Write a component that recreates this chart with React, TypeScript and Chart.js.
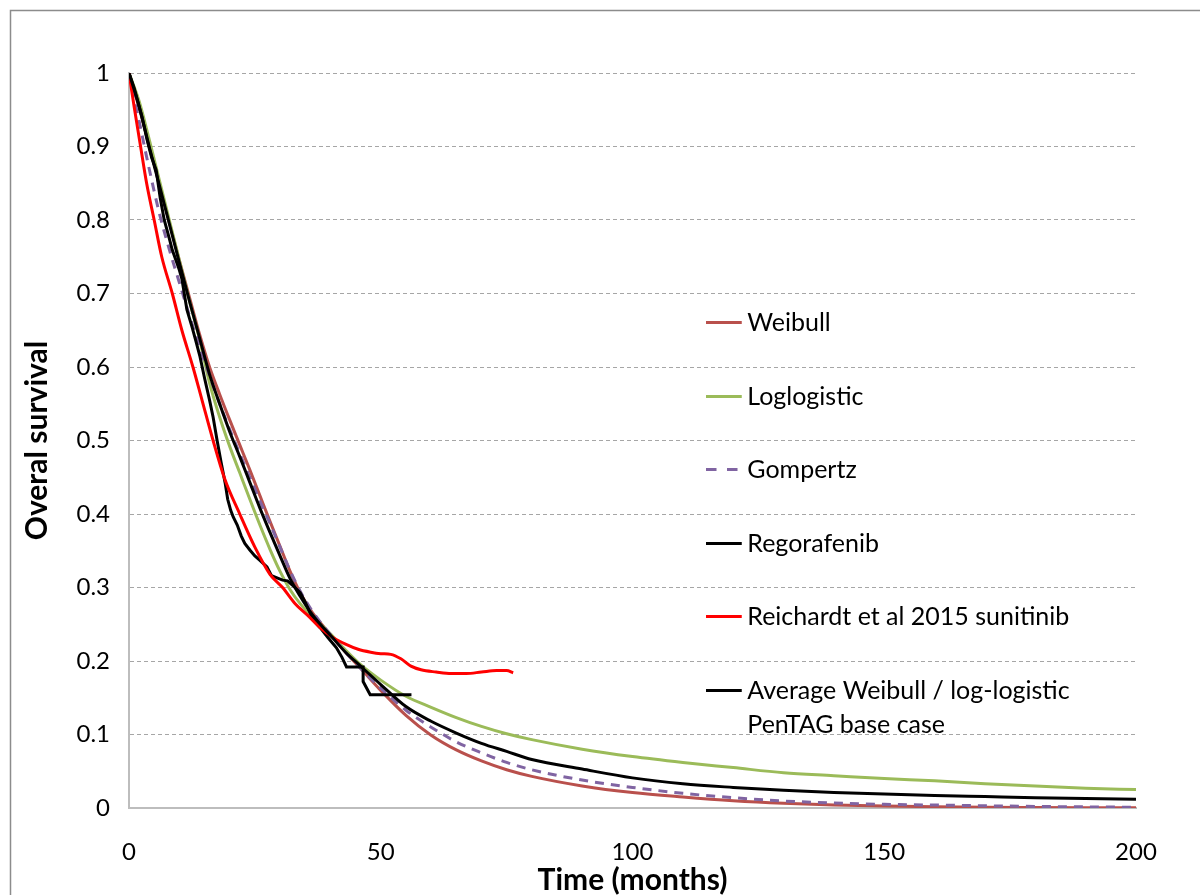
import React, { useEffect, useRef } from "react";
import { Chart, registerables } from "chart.js";
Chart.register(...registerables);

// Time grid (months) for the fitted curves
const TIME = [0, 2, 4, 6, 8, 10, 12, 14, 16, 18, 20, 22, 24, 26, 28, 30, 32, 34, 36, 38, 40, 43, 46, 50, 55, 60, 65, 70, 75, 80, 90, 100, 110, 120, 130, 140, 150, 160, 170, 180, 190, 200];

const WEIBULL = [1, 0.953, 0.903, 0.85, 0.797, 0.745, 0.695, 0.645, 0.6, 0.563, 0.528, 0.494, 0.46, 0.425, 0.39, 0.356, 0.322, 0.293, 0.27, 0.252, 0.236, 0.212, 0.19, 0.16, 0.126, 0.099, 0.079, 0.064, 0.052, 0.043, 0.03, 0.021, 0.015, 0.01, 0.0065, 0.0042, 0.0027, 0.0017, 0.0011, 0.0007, 0.0004, 0.0002];

const LOGLOGISTIC = [1, 0.962, 0.91, 0.855, 0.8, 0.745, 0.69, 0.638, 0.578, 0.532, 0.492, 0.456, 0.42, 0.385, 0.352, 0.322, 0.297, 0.278, 0.263, 0.25, 0.237, 0.215, 0.195, 0.174, 0.152, 0.137, 0.123, 0.111, 0.101, 0.093, 0.08, 0.07, 0.062, 0.055, 0.048, 0.044, 0.04, 0.037, 0.033, 0.03, 0.027, 0.025];

const GOMPERTZ = [1, 0.935, 0.87, 0.81, 0.76, 0.715, 0.67, 0.628, 0.588, 0.55, 0.515, 0.482, 0.45, 0.418, 0.387, 0.355, 0.323, 0.295, 0.272, 0.253, 0.236, 0.212, 0.19, 0.163, 0.133, 0.11, 0.09, 0.075, 0.062, 0.052, 0.038, 0.028, 0.02, 0.014, 0.0095, 0.0068, 0.005, 0.004, 0.003, 0.0022, 0.0015, 0.001];

const AVERAGE = [1, 0.955, 0.9, 0.848, 0.795, 0.742, 0.69, 0.64, 0.59, 0.55, 0.512, 0.478, 0.443, 0.408, 0.375, 0.343, 0.312, 0.288, 0.267, 0.25, 0.235, 0.212, 0.193, 0.168, 0.138, 0.118, 0.102, 0.088, 0.077, 0.066, 0.053, 0.041, 0.033, 0.028, 0.024, 0.021, 0.019, 0.017, 0.0155, 0.014, 0.013, 0.012];

// Regorafenib Kaplan-Meier
const KM_TIME = [0, 1, 2, 2.6, 3.6, 4.5, 5.4, 6.2, 7, 8, 8.6, 9.5, 10, 10.5, 11.5, 12.5, 13.3, 14.1, 15, 16, 16.7, 17.5, 18.3, 19.1, 19.6, 20.2, 20.7, 21.5, 22.3, 23, 24, 25, 26, 27.4, 28.3, 29.4, 30.5, 31.5, 32.5, 34, 35, 36.6, 38, 39.5, 41.2, 42.3, 43.2, 46.5, 46.5, 47.9, 56.1];
const KM_SURV = [1, 0.98, 0.955, 0.94, 0.909, 0.885, 0.868, 0.83, 0.8, 0.775, 0.759, 0.742, 0.732, 0.72, 0.678, 0.655, 0.635, 0.614, 0.585, 0.555, 0.532, 0.5, 0.47, 0.442, 0.42, 0.405, 0.396, 0.385, 0.37, 0.36, 0.351, 0.343, 0.337, 0.328, 0.316, 0.313, 0.31, 0.309, 0.303, 0.293, 0.28, 0.256, 0.245, 0.232, 0.218, 0.205, 0.192, 0.192, 0.172, 0.154, 0.154];

// Reichardt et al 2015 sunitinib
const REICH_TIME = [0, 1, 2.3, 3.5, 5, 6.5, 8.6, 10.5, 12.7, 14.5, 16.7, 19, 22, 25, 28, 30.5, 33, 35.5, 38, 40.5, 43, 45.5, 48, 50, 52, 54, 56, 58, 61, 64, 67, 70, 73, 75, 76.3];
const REICH_SURV = [1, 0.955, 0.9, 0.85, 0.8, 0.75, 0.7, 0.65, 0.6, 0.555, 0.5, 0.448, 0.4, 0.355, 0.318, 0.3, 0.278, 0.262, 0.245, 0.232, 0.223, 0.216, 0.212, 0.21, 0.209, 0.203, 0.193, 0.188, 0.185, 0.183, 0.183, 0.185, 0.187, 0.187, 0.184];

const SERIES_NAMES = ["Weibull", "Loglogistic", "Gompertz", "Regorafenib", "Reichardt et al 2015 sunitinib", "Average Weibull / log-logistic PenTAG base case"];
const LEGEND_LINES = [["Weibull"], ["Loglogistic"], ["Gompertz"], ["Regorafenib"], ["Reichardt et al 2015 sunitinib"], ["Average Weibull / log-logistic", "PenTAG base case"]];
const COLORS = ["#B9504C", "#9BBB59", "#8064A2", "#000000", "#FF0000", "#000000"];
const X_TICKS = [0, 50, 100, 150, 200];
const Y_TICKS = [0, 0.1, 0.2, 0.3, 0.4, 0.5, 0.6, 0.7, 0.8, 0.9, 1];

const FONT = "Lato, 'Open Sans', sans-serif";

const pts = (xs: number[], ys: number[]) => xs.map((x, i) => ({ x, y: ys[i] }));

const framePlugin = {
  id: "frame",
  beforeDraw(chart: any) {
    const { ctx } = chart;
    ctx.save();
    ctx.fillStyle = "#ffffff";
    ctx.fillRect(0, 0, chart.width, chart.height);
    ctx.strokeStyle = "#8c8c8c";
    ctx.lineWidth = 1.5;
    ctx.strokeRect(10.5, 10.5, chart.width + 50, chart.height + 50);
    ctx.restore();
  },
};

const legendPlugin = {
  id: "inlineLegend",
  afterDatasetsDraw(chart: any) {
    const { ctx } = chart;
    const xs = chart.scales.x;
    const ys = chart.scales.y;
    const x0 = xs.getPixelForValue(114.6);
    const x1 = xs.getPixelForValue(121.7);
    const tx = xs.getPixelForValue(122.8);
    LEGEND_LINES.forEach((lines, i) => {
      const yy = Math.round(ys.getPixelForValue(0.661 - 0.1 * i)) + 0.5;
      ctx.save();
      ctx.strokeStyle = COLORS[i];
      ctx.lineWidth = 3;
      ctx.setLineDash(i === 2 ? [10.5, 10.5] : []);
      ctx.beginPath();
      ctx.moveTo(x0, yy);
      ctx.lineTo(x1, yy);
      ctx.stroke();
      ctx.setLineDash([]);
      ctx.fillStyle = "#000";
      ctx.font = `25px ${FONT}`;
      ctx.textBaseline = "middle";
      ctx.textAlign = "left";
      lines.forEach((t, j) => ctx.fillText(t, tx, yy + j * 34));
      ctx.restore();
    });
  },
};

export default function App() {
  const ref = useRef<HTMLCanvasElement | null>(null);
  useEffect(() => {
    if (!ref.current) return;
    const series = [
      pts(TIME, WEIBULL),
      pts(TIME, LOGLOGISTIC),
      pts(TIME, GOMPERTZ),
      pts(KM_TIME, KM_SURV),
      pts(REICH_TIME, REICH_SURV),
      pts(TIME, AVERAGE),
    ];
    const chart = new Chart(ref.current, {
      type: "line",
      data: {
        datasets: series.map((data, i) => ({
          label: SERIES_NAMES[i],
          data,
          borderColor: COLORS[i],
          backgroundColor: COLORS[i],
          borderWidth: 3,
          borderDash: i === 2 ? [9, 7] : [],
          pointRadius: 0,
          fill: false,
          tension: i === 3 ? 0 : 0.4,
          cubicInterpolationMode: i === 3 ? "default" : "monotone",
          order: 6 - i,
        })),
      },
      options: {
        responsive: false,
        animation: false,
        layout: { padding: { left: 0, right: 64, top: 73, bottom: 0 } },
        plugins: { legend: { display: false }, tooltip: { enabled: false } },
        scales: {
          x: {
            type: "linear",
            min: 0,
            max: 200,
            afterBuildTicks: (s: any) => { s.ticks = X_TICKS.map((v) => ({ value: v })); },
            afterFit: (s: any) => { s.height = 87; },
            grid: { display: false, drawTicks: false },
            border: { display: true, color: "#bdbdbd", width: 2 },
            ticks: { color: "#000", font: { family: FONT, size: 24 }, padding: 30, maxRotation: 0, callback: (v: any) => String(v) },
            title: { display: true, text: "Time (months)", color: "#000", font: { family: FONT, size: 30, weight: "bold", lineHeight: 1 }, padding: { top: 0, bottom: 0 } },
          },
          y: {
            min: 0,
            max: 1,
            afterBuildTicks: (s: any) => { s.ticks = Y_TICKS.map((v) => ({ value: v })); },
            afterFit: (s: any) => { s.width = 129; },
            grid: { color: "#a6a6a6", lineWidth: 1, drawTicks: false },
            border: { display: true, color: "#bdbdbd", width: 2, dash: [4, 3] },
            ticks: { color: "#000", font: { family: FONT, size: 24 }, padding: 19, callback: (v: any) => String(Math.round(v * 10) / 10) },
            title: { display: true, text: "Overal survival", color: "#000", font: { family: FONT, size: 30, weight: "bold", lineHeight: 1 }, padding: { top: 22, bottom: 0 } },
          },
        },
      } as any,
      plugins: [framePlugin, legendPlugin],
    });
    return () => chart.destroy();
  }, []);
  return (
    <div style={{ position: "absolute", left: 0, top: 0, width: 1200, height: 895, background: "#fff" }}>
      <canvas ref={ref} width={1200} height={895} style={{ display: "block", width: 1200, height: 895 }} />
    </div>
  );
}
